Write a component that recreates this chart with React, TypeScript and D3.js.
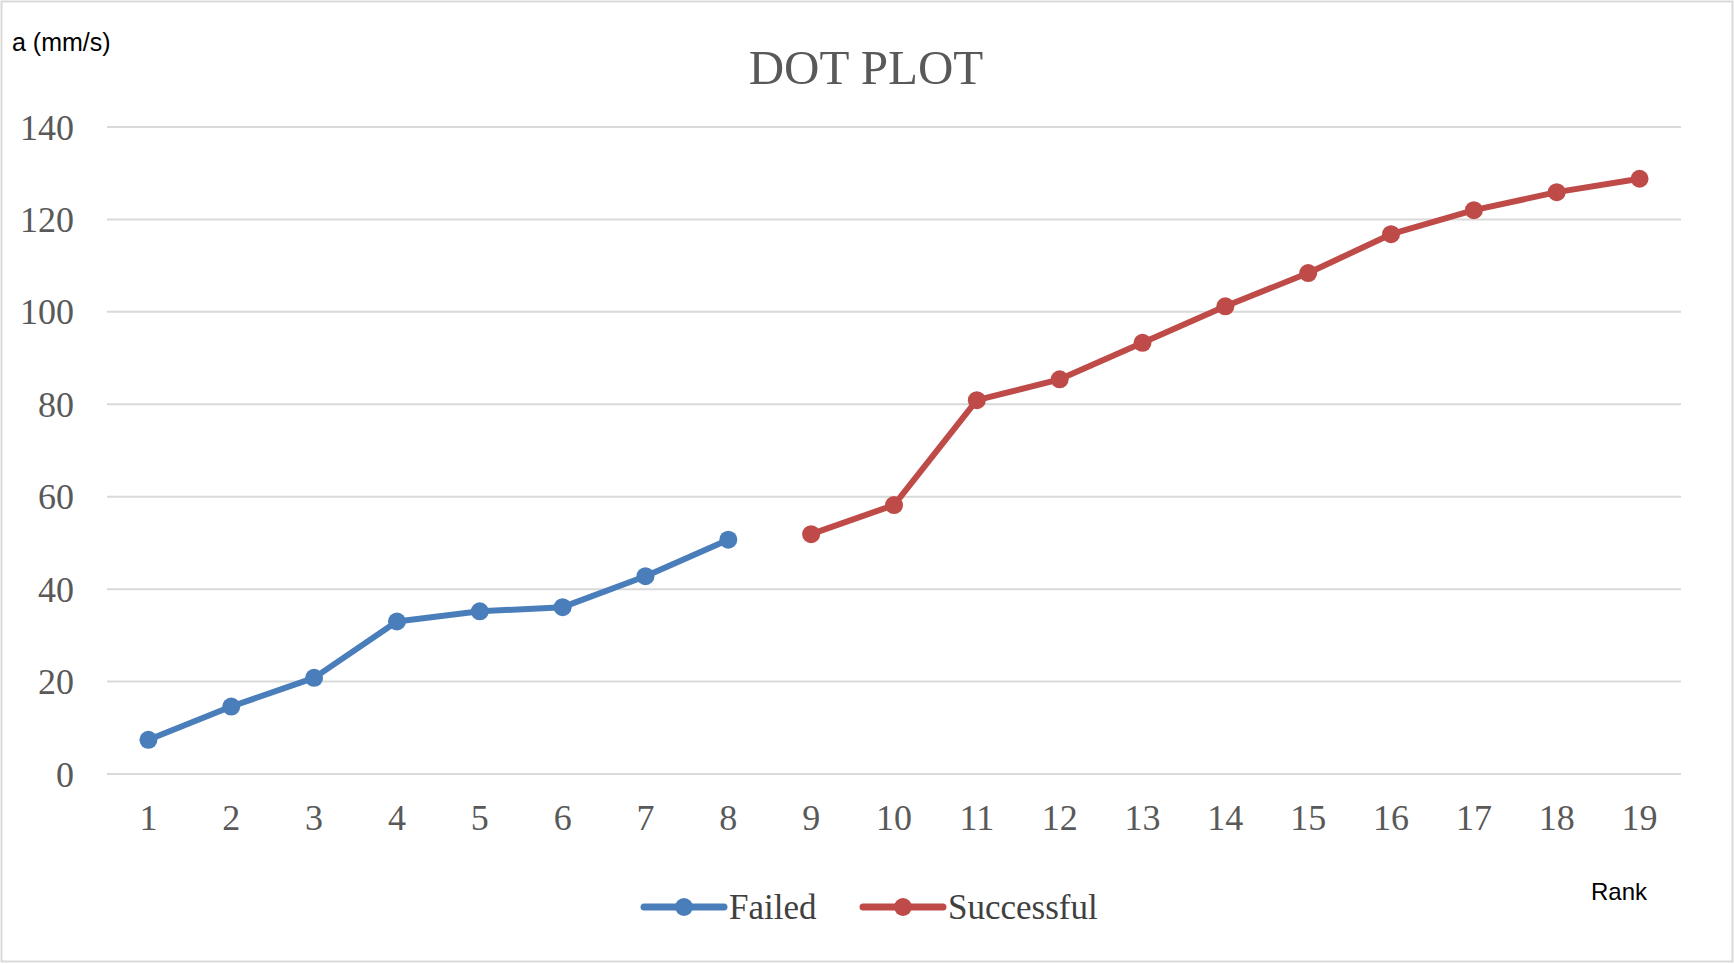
import React from 'react';
import * as d3 from 'd3';

const ranks = d3.range(1, 20).map(String);
const yTicks = [0, 20, 40, 60, 80, 100, 120, 140];
const failedRanks = [1, 2, 3, 4, 5, 6, 7, 8];
const failedValues = [7.4, 14.6, 20.8, 33.0, 35.2, 36.1, 42.8, 50.7];
const successRanks = [9, 10, 11, 12, 13, 14, 15, 16, 17, 18, 19];
const successValues = [51.9, 58.2, 80.9, 85.4, 93.3, 101.2, 108.4, 116.8, 122.0, 125.9, 128.8];

const width = 1734;
const height = 964;
const blue = '#4a7ebb';
const red = '#be4b48';
const serif = '"Liberation Serif", "Times New Roman", serif';
const sans = '"Liberation Sans", Arial, sans-serif';

// x axis; by rank
const x = d3.scaleBand<string>()
    .domain(ranks)
    .range([107, 1681]);

// y axis; acceleration
const y = d3.scaleLinear()
    .domain([0, 140])
    .range([774, 127]);

const cx = (r: number) => (x(String(r)) as number) + x.bandwidth() / 2;

const line = d3.line<[number, number]>()
    .x(d => cx(d[0]))
    .y(d => y(d[1]));

const series = [
    { name: 'Failed', color: blue, pts: failedRanks.map((r, i) => [r, failedValues[i]] as [number, number]) },
    { name: 'Successful', color: red, pts: successRanks.map((r, i) => [r, successValues[i]] as [number, number]) },
];

const legendX = [644, 863];

const App = () => {
    return (
        <svg width={width} height={height} style={{ position: 'absolute', left: 0, top: 0 }}>
            <rect x={1.5} y={1.5} width={width - 3} height={height - 4} fill="#fff" stroke="#d9d9d9" strokeWidth={2} />

            {yTicks.map(t => (
                <g key={t}>
                    <line x1={107} x2={1681} y1={y(t)} y2={y(t)} stroke="#d9d9d9" strokeWidth={2} />
                    <text x={74} y={y(t)} dy="0.35em" textAnchor="end" fontFamily={serif} fontSize={36} fill="#595959">{t}</text>
                </g>
            ))}

            {ranks.map(r => (
                <text key={r} x={(x(r) as number) + x.bandwidth() / 2} y={830} textAnchor="middle"
                    fontFamily={serif} fontSize={36} fill="#595959">{r}</text>
            ))}

            <text x={866} y={84} textAnchor="middle" fontFamily={serif} fontSize={49} fill="#595959">DOT PLOT</text>
            <text x={12} y={51} fontFamily={sans} fontSize={25} fill="#000">a (mm/s)</text>
            <text x={1591} y={900} fontFamily={sans} fontSize={24} fill="#000">Rank</text>

            {series.map(s => (
                <g key={s.name}>
                    <path d={line(s.pts) || ''} fill="none" stroke={s.color} strokeWidth={6} strokeLinejoin="round" />
                    {s.pts.map(p => (
                        <circle key={p[0]} cx={cx(p[0])} cy={y(p[1])} r={9} fill={s.color} />
                    ))}
                </g>
            ))}

            {series.map((s, i) => (
                <g key={s.name} transform={`translate(${legendX[i]},907)`}>
                    <line x1={0} x2={80} y1={0} y2={0} stroke={s.color} strokeWidth={7} strokeLinecap="round" />
                    <circle cx={40} cy={0} r={9} fill={s.color} />
                    <text x={85} y={0} dy="0.33em" fontFamily={serif} fontSize={35} fill="#404040">{s.name}</text>
                </g>
            ))}
        </svg>
    );
};

export default App;
